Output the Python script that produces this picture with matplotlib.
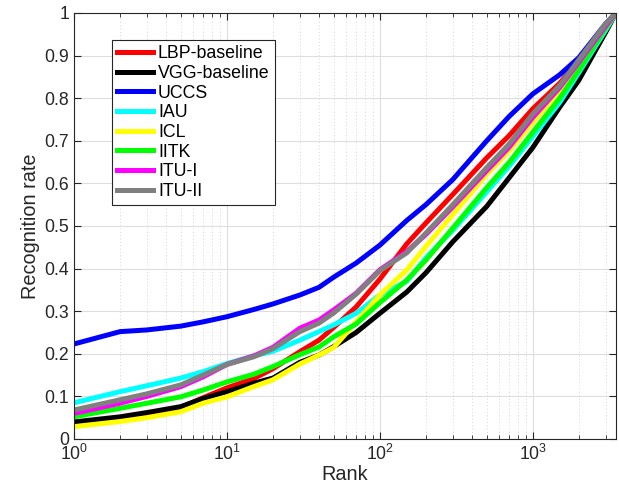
import matplotlib
matplotlib.use("Agg")
import matplotlib.pyplot as plt
from matplotlib.ticker import LogLocator, NullFormatter

plt.rcParams["font.family"] = ["Liberation Sans", "DejaVu Sans"]

# rank axis (log scale) and recognition rates
ranks = [1, 2, 3, 5, 7, 10, 15, 20, 30, 40, 50, 70, 100, 150, 200, 300, 500, 700, 1000, 1500, 2000, 3000, 3500]

lbp = [0.037, 0.049, 0.058, 0.074, 0.097, 0.120, 0.142, 0.165, 0.205, 0.232, 0.262, 0.310, 0.375, 0.458, 0.507,
       0.574, 0.660, 0.712, 0.775, 0.835, 0.888, 0.970, 1.0]
vgg = [0.040, 0.052, 0.062, 0.076, 0.095, 0.111, 0.131, 0.143, 0.180, 0.197, 0.217, 0.250, 0.295, 0.345, 0.390,
       0.463, 0.546, 0.613, 0.684, 0.779, 0.842, 0.955, 1.0]
uccs = [0.223, 0.252, 0.256, 0.265, 0.275, 0.287, 0.304, 0.317, 0.338, 0.356, 0.380, 0.413, 0.455, 0.513, 0.550,
        0.609, 0.700, 0.757, 0.810, 0.855, 0.895, 0.975, 1.0]
iau = [0.085, 0.111, 0.125, 0.143, 0.158, 0.177, 0.195, 0.206, 0.232, 0.252, 0.268, 0.295, 0.338, 0.370, 0.425,
       0.490, 0.580, 0.640, 0.710, 0.790, 0.860, 0.960, 1.0]
icl = [0.029, 0.041, 0.050, 0.064, 0.084, 0.099, 0.123, 0.139, 0.176, 0.197, 0.215, 0.275, 0.338, 0.397, 0.452,
       0.527, 0.621, 0.676, 0.743, 0.818, 0.873, 0.965, 1.0]
iitk = [0.052, 0.072, 0.084, 0.099, 0.115, 0.134, 0.152, 0.170, 0.198, 0.216, 0.240, 0.270, 0.320, 0.373, 0.420,
        0.495, 0.590, 0.649, 0.720, 0.800, 0.866, 0.965, 1.0]
itu1 = [0.060, 0.084, 0.100, 0.123, 0.146, 0.175, 0.195, 0.215, 0.260, 0.279, 0.303, 0.342, 0.397, 0.440, 0.480,
        0.545, 0.630, 0.685, 0.755, 0.825, 0.885, 0.970, 1.0]
itu2 = [0.068, 0.092, 0.106, 0.127, 0.150, 0.175, 0.193, 0.212, 0.252, 0.272, 0.296, 0.340, 0.395, 0.437, 0.483,
        0.550, 0.637, 0.692, 0.763, 0.830, 0.890, 0.975, 1.0]

names = ["LBP-baseline", "VGG-baseline", "UCCS", "IAU", "ICL", "IITK", "ITU-I", "ITU-II"]
series = [lbp, vgg, uccs, iau, icl, iitk, itu1, itu2]
colors = ["#ff0000", "#000000", "#0000ff", "#00ffff", "#ffff00", "#00ff00", "#ff00ff", "#808080"]
yticks = [0, 0.1, 0.2, 0.3, 0.4, 0.5, 0.6, 0.7, 0.8, 0.9, 1]
ytick_labels = ["0", "0.1", "0.2", "0.3", "0.4", "0.5", "0.6", "0.7", "0.8", "0.9", "1"]

fig = plt.figure(figsize=(6.19, 4.98), dpi=100)
ax = fig.add_axes([0.1195, 0.1185, 0.8756, 0.8554])

for name, ys, c in zip(names, series, colors):
    ax.plot(ranks, ys, color=c, lw=3.6, label=name, solid_joinstyle="round")

ax.set_xscale("log")
ax.set_xlim(1, 3500)
ax.set_ylim(0, 1)
ax.set_yticks(yticks)
ax.set_yticklabels(ytick_labels)
ax.xaxis.set_minor_locator(LogLocator(base=10, subs=range(2, 10), numticks=20))
ax.xaxis.set_minor_formatter(NullFormatter())

ax.grid(True, which="major", color="#dedede", lw=0.8)
ax.grid(True, which="minor", axis="x", color="#c8c8c8", lw=0.6, ls=(0, (1, 3)))
ax.set_axisbelow(True)

dark = "#262626"
for s in ax.spines.values():
    s.set_color(dark)
    s.set_linewidth(0.8)
ax.tick_params(which="both", direction="in", top=True, right=True, colors=dark,
               labelsize=12.7, labelcolor=dark)
ax.tick_params(which="major", length=5)
ax.tick_params(which="minor", length=3)

ax.set_xlabel("Rank", fontsize=14.3, color=dark, labelpad=1)
ax.set_ylabel("Recognition rate", fontsize=14.3, color=dark, labelpad=3)

leg = ax.legend(loc="upper left", bbox_to_anchor=(0.0696, 0.9366), fontsize=12.8,
                frameon=True, fancybox=False, edgecolor=dark, framealpha=1,
                handlelength=2.05, handletextpad=0.25, labelspacing=0.15,
                borderpad=0.3, borderaxespad=0)
leg.get_frame().set_linewidth(0.8)

fig.savefig("out.png", dpi=100)
